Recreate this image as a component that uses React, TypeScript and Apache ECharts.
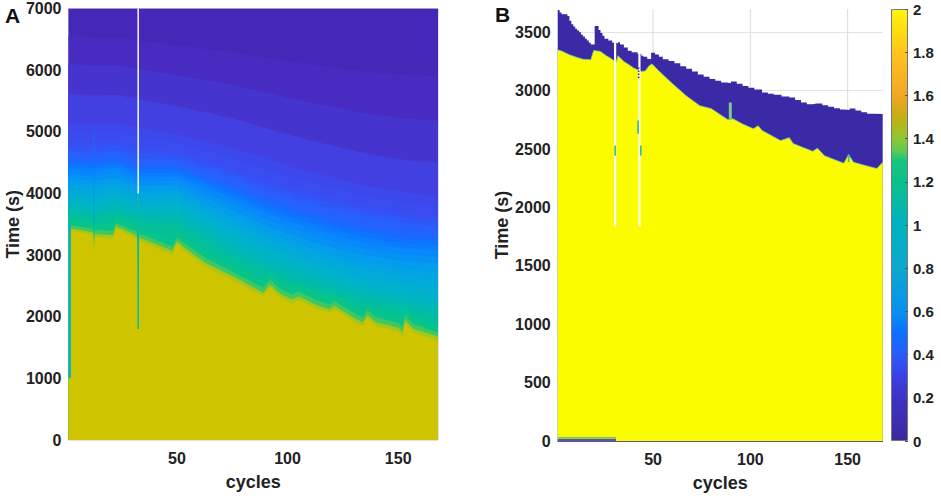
import { useEffect, useRef } from 'react';
import * as echarts from 'echarts';

const xTicks = [50, 100, 150];
const edgeCycles = [1, 168];

// panel A: upper edge of each colour band, read at these cycles
const lowCycles = [1, 12, 12.5, 13, 21, 22.5, 31, 32, 32.5, 33, 36, 48, 50, 53, 63, 75, 89, 92, 96, 102, 105, 113, 119, 121, 130, 134, 136, 140, 150, 152, 153, 157, 168];
const oliveTop = [3410, 3330, 3000, 3290, 3270, 3430, 3290, 3260, 1800, 3230, 3190, 3010, 3190, 3080, 2810, 2600, 2330, 2480, 2330, 2220, 2275, 2135, 2065, 2125, 1920, 1850, 1975, 1850, 1760, 1680, 1890, 1740, 1610];
const limeTop = [3440, 3370, 3200, 3340, 3320, 3470, 3330, 3310, 2000, 3290, 3240, 3070, 3230, 3130, 2870, 2660, 2390, 2530, 2390, 2280, 2330, 2190, 2120, 2180, 1980, 1910, 2030, 1910, 1820, 1750, 1950, 1800, 1680];
const greenTop = [3490, 3430, 3350, 3410, 3390, 3520, 3390, 3370, 2400, 3350, 3310, 3140, 3290, 3200, 2950, 2730, 2470, 2610, 2470, 2360, 2410, 2270, 2200, 2260, 2060, 1990, 2110, 1990, 1900, 1840, 2030, 1880, 1740];
const emeraldTop = [3580, 3530, 3490, 3510, 3490, 3600, 3480, 3460, 3000, 3440, 3400, 3240, 3380, 3310, 3060, 2840, 2590, 2710, 2590, 2480, 2530, 2390, 2320, 2370, 2170, 2100, 2220, 2100, 2010, 1960, 2130, 1990, 1840];

const highCycles = [1, 12.5, 22.5, 32.5, 50, 75, 92, 105, 121, 135, 153, 168];
const highBands = [
  [6560, 6530, 6530, 6480, 6400, 6290, 6190, 6120, 6040, 5980, 5920, 5900],
  [6100, 6070, 6080, 6010, 5920, 5760, 5620, 5510, 5400, 5300, 5210, 5180],
  [5620, 5590, 5600, 5530, 5420, 5220, 5040, 4910, 4770, 4650, 4540, 4500],
  [5150, 5120, 5140, 5060, 4960, 4740, 4550, 4400, 4260, 4130, 4020, 3960],
  [5000, 4970, 5000, 4910, 4820, 4580, 4380, 4230, 4090, 3960, 3850, 3790],
  [4850, 4820, 4860, 4760, 4680, 4420, 4200, 4060, 3930, 3800, 3680, 3625],
  [4760, 4730, 4780, 4660, 4610, 4340, 4100, 3970, 3840, 3720, 3600, 3545],
  [4680, 4650, 4700, 4570, 4540, 4260, 4010, 3880, 3750, 3640, 3520, 3463],
  [4580, 4540, 4600, 4460, 4460, 4150, 3900, 3760, 3610, 3490, 3380, 3360],
  [4500, 4470, 4530, 4390, 4390, 4060, 3810, 3650, 3490, 3370, 3260, 3247],
  [4445, 4410, 4475, 4330, 4335, 3990, 3735, 3575, 3410, 3290, 3185, 3165],
  [4390, 4350, 4420, 4270, 4280, 3920, 3660, 3500, 3330, 3210, 3110, 3084],
  [4315, 4275, 4340, 4195, 4205, 3825, 3560, 3395, 3220, 3105, 3005, 2977],
  [4240, 4200, 4260, 4120, 4130, 3730, 3460, 3290, 3110, 3000, 2900, 2870],
  [4150, 4110, 4170, 4035, 4040, 3625, 3350, 3175, 2990, 2875, 2775, 2730],
  [4060, 4020, 4080, 3950, 3950, 3520, 3240, 3060, 2870, 2750, 2650, 2590],
  [3970, 3925, 3985, 3855, 3860, 3410, 3115, 2940, 2755, 2620, 2515, 2430],
  [3880, 3830, 3890, 3760, 3770, 3300, 2990, 2820, 2640, 2490, 2380, 2273],
  [3800, 3740, 3810, 3680, 3665, 3175, 2885, 2725, 2545, 2390, 2280, 2166],
  [3720, 3650, 3730, 3600, 3560, 3050, 2780, 2630, 2450, 2290, 2180, 2060],
  [3650, 3590, 3665, 3540, 3480, 2945, 2685, 2540, 2365, 2195, 2085, 1950],
];
const highColors = ['#482cc2', '#4634ce', '#4240e0', '#3c48ec', '#3a4cf0', '#3650f4', '#2e58f8', '#2860fc', '#1c68ff', '#0c74ff', '#0a7eff', '#0888fa', '#0692f4', '#049cec', '#03a4e2', '#02aad8', '#01b0cc', '#00b5c2', '#00b9b4', '#00bda6', '#04c098'];

// panel A: vertical streaks
const whiteStreak = [[32.5, 4000], [32.5, 7000]];
const tealStreak = [[32.5, 1800], [32.5, 4000]];
const blueStreak = [[12.5, 3500], [12.5, 5000]];
const edgeStreak = [[1.5, 1000], [1.5, 3500]];
const faintStreaks = [
  [[50, 3190], [50, 4200]],
  [[92, 2480], [92, 3300]],
  [[105, 2275], [105, 2900]],
  [[121, 2125], [121, 2750]],
  [[135, 1975], [135, 2600]],
  [[153, 1890], [153, 2500]],
];

// panel B: stair edge of the dark region and edge of the yellow region
const darkTop = [[1, 3692], [2, 3670], [3, 3655], [6, 3640], [7, 3600], [8, 3570], [9, 3550], [10, 3530], [11, 3515], [12, 3500], [13, 3480], [14, 3465], [15, 3445], [16, 3430], [17, 3410], [18, 3395], [20, 3555], [22, 3520], [23, 3495], [24, 3470], [25, 3445], [27, 3430], [29, 3410], [31, 3404], [32, 3415], [33, 3395], [35, 3370], [37, 3342], [39, 3330], [42, 3316], [44, 3300], [45, 3290], [47, 3272], [49, 3325], [51, 3310], [53, 3290], [55, 3270], [58, 3255], [61, 3235], [64, 3210], [67, 3188], [70, 3165], [73, 3140], [76, 3120], [79, 3100], [82, 3085], [85, 3070], [88, 3065], [90, 3080], [93, 3060], [96, 3040], [99, 3025], [102, 3010], [106, 2985], [109, 2975], [112, 2965], [116, 2950], [120, 2943], [123, 2920], [126, 2900], [129, 2885], [132, 2890], [134, 2891], [137, 2875], [140, 2862], [143, 2850], [146, 2840], [148, 2836], [151, 2848], [154, 2830], [157, 2815], [160, 2803], [164, 2800], [168, 2803]];
const yellowTop = [[1, 3350], [3, 3340], [7, 3308], [11, 3285], [14, 3270], [18, 3265], [19.5, 3345], [23, 3336], [26, 3300], [29, 3270], [30, 3255], [31, 3240], [32, 3300], [35, 3250], [37, 3230], [40, 3195], [42, 3180], [44, 3165], [46, 3170], [48, 3214], [49.5, 3230], [53, 3170], [60, 3060], [67, 2957], [74, 2872], [80, 2846], [85, 2790], [88.5, 2752], [91, 2760], [96, 2715], [101.5, 2675], [104, 2700], [106, 2660], [115.5, 2573], [120, 2598], [122, 2547], [132, 2481], [134.5, 2507], [138, 2444], [148, 2379], [150.5, 2453], [153, 2387], [160, 2355], [165, 2333], [168, 2387]];
const gapLines = [[[30.5, 1838], [30.5, 3420]], [[43, 1838], [43, 3340]]];
const tealMarks = [[[30.5, 2444], [30.5, 2530]], [[42.3, 2632], [42.3, 2744]], [[43.7, 2444], [43.7, 2530]], [[150.5, 2390], [150.5, 2453]]];
const spikeMark = [[89.7, 2752], [89.7, 2900]];
const darkDots = [[42.6, 3110], [42.6, 3200]];
const bottomStrip = [[1, 20], [31, 20]];
const bottomStripEdge = [[1, 28], [31, 28]];

const colorbarStops = [
  [2, '#fdf40a'], [1.9, '#ffdc10'], [1.8, '#ffc41c'], [1.6, '#f2a626'], [1.5, '#c4ae12'], [1.4, '#8ec832'], [1.34, '#5cc858'],
  [1.3, '#14c67c'], [1.2, '#0cc08c'], [1, '#00b2c0'], [0.8, '#0ca8cc'], [0.6, '#0a90f0'], [0.5, '#0c70ff'], [0.4, '#2a5cf8'],
  [0.3, '#3a42e4'], [0.2, '#3e32c8'], [0, '#3a2a9a'],
];

const FONT = '"Liberation Sans", Arial, sans-serif';
const TEXT = '#222222';

function area(data: number[][], color: string, xAxisIndex: number, extra: any = {}) {
  return {
    type: 'line',
    xAxisIndex,
    yAxisIndex: xAxisIndex,
    data,
    showSymbol: false,
    silent: true,
    lineStyle: { width: 0 },
    areaStyle: { color, opacity: 1, origin: 'start' },
    ...extra,
  };
}

function stroke(data: number[][], color: string, width: number, xAxisIndex: number, type = 'solid') {
  return {
    type: 'line',
    xAxisIndex,
    yAxisIndex: xAxisIndex,
    data,
    showSymbol: false,
    silent: true,
    lineStyle: { color, width, type, cap: 'butt' },
  };
}

const zip = (xs: number[], ys: number[]) => xs.map((x, i) => [x, ys[i]]);

function xAxis(gridIndex: number) {
  return {
    type: 'value',
    gridIndex,
    min: 1,
    max: 168,
    name: 'cycles',
    nameLocation: 'middle',
    nameGap: 33,
    nameTextStyle: { fontFamily: FONT, fontSize: 18, fontWeight: 'bold', color: TEXT },
    axisLine: { show: gridIndex === 1, onZero: false, lineStyle: { color: '#5a54a8', width: 1 } },
    axisTick: { show: false },
    splitLine: { show: false },
    axisLabel: { customValues: xTicks, margin: 10, fontFamily: FONT, fontSize: 16, fontWeight: 'bold', color: TEXT },
    z: 200,
  };
}

function yAxis(gridIndex: number, max: number, interval: number) {
  return {
    type: 'value',
    gridIndex,
    min: 0,
    max,
    interval,
    name: 'Time (s)',
    nameLocation: 'middle',
    nameGap: 42,
    nameTextStyle: { fontFamily: FONT, fontSize: 18, fontWeight: 'bold', color: TEXT },
    axisLine: { show: false },
    axisTick: { show: false },
    splitLine: { show: gridIndex === 1, showMaxLine: false, lineStyle: { color: '#e2e2e2', width: 1 } },
    axisLabel: { margin: 7, showMaxLabel: gridIndex === 0, formatter: (v: number) => String(v), fontFamily: FONT, fontSize: 16, fontWeight: 'bold', color: TEXT },
  };
}

export default function App() {
  const chartRef = useRef<HTMLDivElement>(null);

  useEffect(() => {
    if (!chartRef.current) return;
    const chart = echarts.init(chartRef.current, undefined, { renderer: 'svg' });

    const series: any[] = [
      // panel A, widest band first so each later one paints over it
      area(zip(edgeCycles, [7000, 7000]), '#4528b8', 0),
      ...highBands.map((band, i) => area(zip(highCycles, band), highColors[i], 0)),
      area(zip(lowCycles, emeraldTop), '#08c488', 0),
      area(zip(lowCycles, greenTop), '#40c860', 0),
      area(zip(lowCycles, limeTop), '#a8c61a', 0),
      area(zip(lowCycles, oliveTop), '#cfc400', 0),
      ...faintStreaks.map((l) => stroke(l, 'rgba(0,200,175,0.14)', 3, 0)),
      stroke(blueStreak, 'rgba(0,140,235,0.3)', 1.5, 0),
      stroke(tealStreak, '#10b8a0', 1.5, 0),
      stroke(whiteStreak, '#f4fbff', 1.5, 0),
      stroke(edgeStreak, '#00b4c8', 2.5, 0),

      // panel B
      ...xTicks.map((c) => stroke([[c, 0], [c, 3700]], '#dcdcdc', 1, 1)),
      area(darkTop, '#3b2aa5', 1, { step: 'end' }),
      area(yellowTop, '#fcfc00', 1, { lineStyle: { color: '#7cc8a0', width: 0.8 } }),
      ...gapLines.map((l) => stroke(l, '#fffff4', 2.2, 1)),
      ...tealMarks.map((l) => stroke(l, '#44bca0', 1.8, 1)),
      stroke(spikeMark, '#7cc890', 3, 1),
      stroke(darkDots, '#3b2aa5', 1.5, 1, 'dotted'),
      stroke(bottomStripEdge, '#40bc90', 1, 1),
      area(bottomStrip, '#5a5a98', 1),

      // colour scale
      {
        type: 'bar',
        xAxisIndex: 2,
        yAxisIndex: 2,
        data: [2],
        barWidth: '100%',
        silent: true,
        itemStyle: {
          borderColor: '#77777a',
          borderWidth: 1,
          color: new echarts.graphic.LinearGradient(
            0, 0, 0, 1,
            colorbarStops.map(([v, c]) => ({ offset: 1 - (v as number) / 2, color: c as string })),
          ),
        },
      },
    ];
    // line strokes sit above every fill otherwise, so give each series its own layer
    series.forEach((s, i) => { s.z = i + 2; });

    const option: any = {
      animation: false,
      backgroundColor: '#ffffff',
      grid: [
        { left: 68.5, top: 8.5, width: 369.5, height: 431.5, show: true, borderColor: '#c4c4cc', borderWidth: 1 },
        { left: 557.7, top: 9, width: 325, height: 432 },
        { left: 891, top: 9, width: 17, height: 432 },
      ],
      xAxis: [
        xAxis(0),
        xAxis(1),
        { type: 'category', gridIndex: 2, data: [''], axisLine: { show: false }, axisTick: { show: false }, axisLabel: { show: false } },
      ],
      yAxis: [
        yAxis(0, 7000, 1000),
        yAxis(1, 3700, 500),
        {
          type: 'value',
          gridIndex: 2,
          position: 'right',
          min: 0,
          max: 2,
          interval: 0.2,
          z: 200,
          axisLine: { show: false },
          axisTick: { show: true, inside: true, length: 3, lineStyle: { color: '#555555', width: 1 } },
          splitLine: { show: false },
          axisLabel: { margin: 5, fontFamily: FONT, fontSize: 15, fontWeight: 'bold', color: TEXT },
        },
      ],
      series,
      graphic: [
        { type: 'text', x: 5, y: 5, style: { text: 'A', fontFamily: FONT, fontSize: 21, fontWeight: 'bold', fill: '#111111' } },
        { type: 'text', x: 495, y: 4, style: { text: 'B', fontFamily: FONT, fontSize: 21, fontWeight: 'bold', fill: '#111111' } },
      ],
    };

    chart.setOption(option);
    return () => chart.dispose();
  }, []);

  return <div ref={chartRef} style={{ position: 'fixed', left: 0, top: 0, width: 941, height: 501 }} />;
}
